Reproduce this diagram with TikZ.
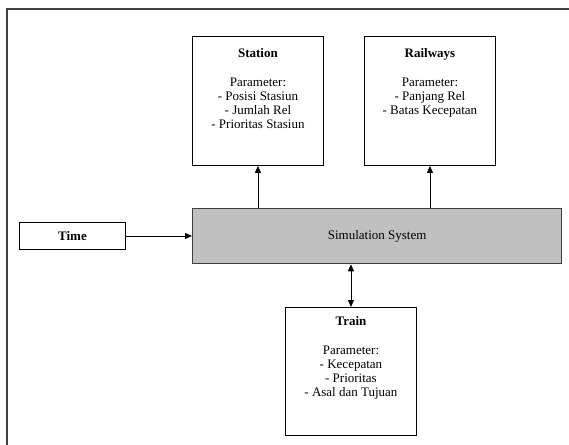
\documentclass[tikz,border=0pt]{standalone}
\usepackage{fontspec}
\setmainfont{Liberation Serif}
\usetikzlibrary{arrows.meta}
\definecolor{framegray}{HTML}{404040}
\definecolor{simfill}{HTML}{C0C0C0}
\begin{document}
\begin{tikzpicture}[x=1pt,y=-1pt,
  box/.style={draw=black,line width=0.9pt,rectangle,inner sep=0pt,anchor=north west},
  txt/.style={inner sep=0pt,align=center,font=\fontsize{13}{14}\selectfont},
  arr/.style={line width=0.9pt,-{Triangle[length=7pt,width=6pt]}},
  darr/.style={line width=0.9pt,{Triangle[length=7pt,width=6pt]}-{Triangle[length=7pt,width=6pt]}}]
\useasboundingbox (0,0) rectangle (569,444);
\fill[white] (0,0) rectangle (569,444);
\draw[framegray,line width=2pt] (7,446) -- (7,9) -- (571,9);
\node[box,minimum width=131pt,minimum height=129pt] (station) at (192,36) {};
\node[box,minimum width=131pt,minimum height=129pt] (rail) at (364,36) {};
\node[box,draw=framegray,fill=simfill,line width=1.3pt,minimum width=369pt,minimum height=55pt] (sim) at (192,208) {};
\node[box,minimum width=106pt,minimum height=27pt] (time) at (19,222) {};
\node[box,minimum width=131pt,minimum height=128pt] (train) at (285,307) {};
\node[txt,anchor=north] (stationtxt) at ([yshift=-12pt]station.north) {\textbf{Station}\\[15pt]Parameter:\\- Posisi Stasiun\\- Jumlah Rel\\- Prioritas Stasiun};
\node[txt,anchor=north] (railtxt) at ([yshift=-12pt]rail.north) {\textbf{Railways}\\[15pt]Parameter:\\- Panjang Rel\\- Batas Kecepatan};
\node[txt,anchor=north] (traintxt) at ([yshift=-9pt]train.north) {\textbf{Train}\\[15pt]Parameter:\\- Kecepatan\\- Prioritas\\- Asal dan Tujuan};
\node[txt] (simtxt) at (sim.center) {Simulation System};
\node[txt] (timetxt) at (time.center) {\textbf{Time}};
\draw[arr] (station.south |- sim.north) -- (station.south);
\draw[arr] (rail.south |- sim.north) -- (rail.south);
\draw[arr] (time.east) -- (time.east -| sim.west);
\draw[darr] (train.north |- sim.south) -- (train.north);
\end{tikzpicture}
\end{document}
